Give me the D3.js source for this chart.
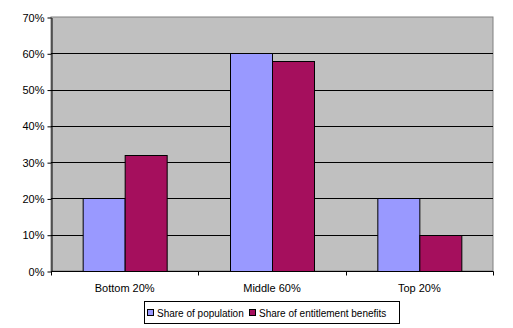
<!DOCTYPE html>
<html>
<head>
<meta charset="utf-8">
<script src="https://cdn.jsdelivr.net/npm/d3@7"></script>
<style>
  html, body { margin: 0; padding: 0; background: #fff; }
  svg { display: block; font-family: "Liberation Sans", Arial, sans-serif; }
</style>
</head>
<body>
<svg id="chart" width="513" height="328"></svg>
<script>
// Income groups and their shares (percent)
const categories = ["Bottom 20%", "Middle 60%", "Top 20%"];
const seriesNames = ["Share of population", "Share of entitlement benefits"];
const population = [20, 60, 20];
const benefits = [32, 58, 10];
const yTicks = [0, 10, 20, 30, 40, 50, 60, 70];
const colors = ["#9999ff", "#a50f5d"];

const svg = d3.select("#chart");
const plot = { left: 51, top: 17, right: 493, bottom: 271 };

const x = d3.scaleBand().domain(categories).range([plot.left, plot.right]);
const y = d3.scaleLinear().domain([0, 70]).range([plot.bottom, plot.top]);

// Plot area background
svg.append("rect")
  .attr("x", plot.left).attr("y", plot.top)
  .attr("width", plot.right - plot.left).attr("height", plot.bottom - plot.top)
  .attr("fill", "#c0c0c0").attr("stroke", "#808080").attr("stroke-width", 1);

// Horizontal gridlines
svg.append("g").selectAll("line")
  .data(yTicks.filter(d => d > 0 && d < 70))
  .join("line")
  .attr("x1", plot.left).attr("x2", plot.right)
  .attr("y1", d => Math.round(y(d)) + 0.5).attr("y2", d => Math.round(y(d)) + 0.5)
  .attr("stroke", "#000").attr("stroke-width", 1);

// Bars
const data = categories.map((c, i) => ({ cat: c, vals: [population[i], benefits[i]] }));
const barW = 42;
const groups = svg.append("g").selectAll("g")
  .data(data).join("g")
  .attr("transform", d => `translate(${x(d.cat) + x.bandwidth() / 2 - barW},0)`);
groups.selectAll("rect")
  .data(d => d.vals)
  .join("rect")
  .attr("x", (d, i) => i * barW + 0.5)
  .attr("y", d => Math.round(y(d)) + 0.5)
  .attr("width", barW)
  .attr("height", d => y(0) - Math.round(y(d)))
  .attr("fill", (d, i) => colors[i])
  .attr("stroke", "#000").attr("stroke-width", 1);

// Y axis
const yAxis = svg.append("g")
  .attr("transform", `translate(${plot.left + 0.5},0.5)`)
  .call(d3.axisLeft(y).tickValues(yTicks).tickFormat(d => d + "%").tickSize(4).tickSizeOuter(0));
yAxis.select(".domain").attr("stroke", "#000");
yAxis.selectAll(".tick line").attr("stroke", "#000");
yAxis.selectAll(".tick text").attr("font-size", 11).attr("fill", "#000").attr("x", -7)
  .attr("font-family", "Liberation Sans, Arial, sans-serif");

// X axis with tick marks at category boundaries
const xAxis = svg.append("g")
  .attr("transform", `translate(0,${plot.bottom + 0.5})`);
xAxis.append("line")
  .attr("x1", plot.left).attr("x2", plot.right + 0.5)
  .attr("stroke", "#000");
const bounds = categories.map(c => x(c)).concat([plot.right]);
xAxis.selectAll("line.tk").data(bounds).join("line").attr("class", "tk")
  .attr("x1", d => Math.round(d) + 0.5).attr("x2", d => Math.round(d) + 0.5)
  .attr("y1", 0).attr("y2", 4).attr("stroke", "#000");
xAxis.selectAll("text").data(categories).join("text")
  .attr("x", d => x(d) + x.bandwidth() / 2)
  .attr("y", 20)
  .attr("text-anchor", "middle")
  .attr("font-size", 11)
  .attr("fill", "#000")
  .text(d => d);

// Legend
const legend = svg.append("g");
legend.append("rect")
  .attr("x", 144.5).attr("y", 301.5).attr("width", 255).attr("height", 22)
  .attr("fill", "#fff").attr("stroke", "#000");
const legendX = [147, 249];
seriesNames.forEach((name, i) => {
  legend.append("rect")
    .attr("x", legendX[i] + 0.5).attr("y", 309.5).attr("width", 6).attr("height", 6)
    .attr("fill", colors[i]).attr("stroke", "#000");
  legend.append("text")
    .attr("x", legendX[i] + 10).attr("y", 316.5)
    .attr("font-size", 10).attr("fill", "#000")
    .text(name);
});
</script>
</body>
</html>
